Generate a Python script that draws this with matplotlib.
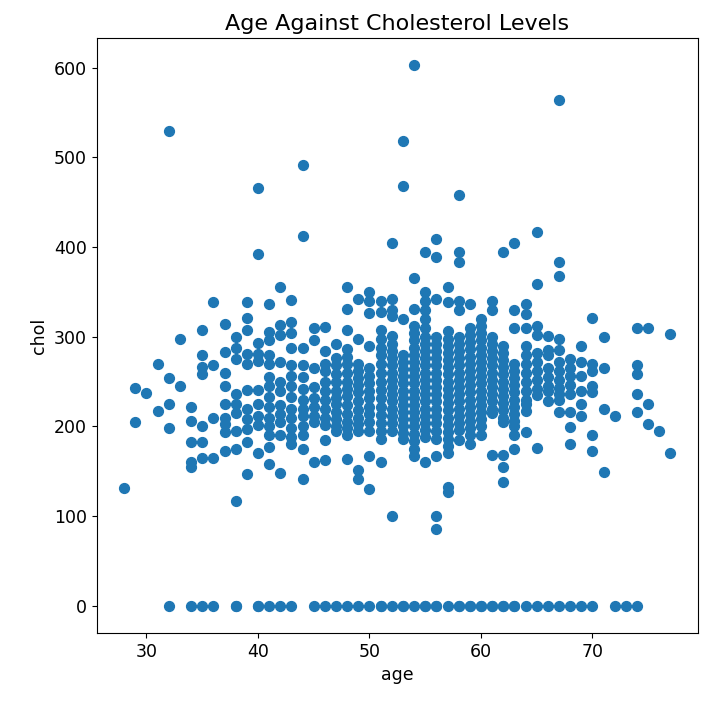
import numpy as np
import matplotlib
matplotlib.use("Agg")
import matplotlib.pyplot as plt

# cholesterol readings grouped by patient age
age_groups = [28, 29, 30, 31, 32, 33, 34, 35, 36, 37, 38, 39, 40, 41, 42, 43, 44,
              45, 46, 47, 48, 49, 50, 51, 52, 53, 54, 55, 56, 57, 58, 59, 60, 61,
              62, 63, 64, 65, 66, 67, 68, 69, 70, 71, 72, 74, 75, 76, 77]
chol_groups = [
    [132],
    [243, 205],
    [237],
    [270, 217],
    [529, 254, 225, 198],
    [298, 245],
    [222, 206, 183, 160, 155],
    [307, 280, 266, 258, 200, 183, 165],
    [339, 268, 209, 165],
    [314, 283, 260, 245, 225, 210, 203, 194, 173],
    [300, 287, 275, 236, 225, 215, 195, 175, 117],
    [339, 321, 307, 281, 270, 241, 219, 208, 197, 183, 147],
    [466, 392, 293, 281, 273, 241, 225, 212, 202, 171],
    [336, 305, 296, 280, 270, 255, 245, 233, 222, 210, 200, 190, 177, 158],
    [356, 313, 302, 272, 250, 240, 224, 214, 205, 190, 148],
    [341, 316, 304, 288, 269, 256, 245, 233, 220, 210, 198, 188, 180],
    [491, 412, 288, 268, 255, 242, 230, 220, 212, 200, 190, 175, 141],
    [310, 296, 265, 244, 232, 222, 212, 205, 160],
    [311, 284, 270, 262, 250, 240, 230, 220, 210, 202, 185, 163],
    [292, 276, 268, 258, 250, 240, 232, 225, 216, 208, 200, 195],
    [355, 331, 308, 286, 278, 270, 260, 250, 242, 234, 224, 214, 205, 198, 190, 164],
    [342, 297, 270, 262, 254, 246, 238, 228, 218, 210, 203, 195, 152, 141],
    [350, 340, 327, 290, 265, 256, 248, 240, 232, 222, 214, 205, 195, 167, 130],
    [340, 328, 308, 298, 288, 280, 270, 260, 250, 241, 232, 222, 213, 204, 195, 186, 160],
    [404, 342, 330, 323, 301, 292, 284, 276, 268, 260, 252, 244, 236, 228, 220, 212,
     204, 195, 100],
    [518, 468, 320, 280, 272, 264, 256, 248, 240, 232, 224, 216, 208, 200, 193, 186],
    [603, 366, 331, 312, 304, 296, 288, 280, 272, 264, 256, 248, 240, 232, 224, 216,
     208, 200, 192, 184, 175, 167],
    [394, 350, 340, 330, 320, 310, 300, 292, 284, 276, 268, 260, 252, 244, 236, 228,
     220, 212, 204, 196, 188, 160],
    [409, 389, 342, 300, 292, 284, 276, 268, 260, 252, 244, 236, 228, 220, 212, 204,
     195, 186, 167, 100, 86],
    [355, 339, 306, 298, 290, 282, 274, 266, 258, 250, 242, 234, 226, 218, 210, 202,
     194, 186, 178, 170, 133, 127],
    [458, 394, 383, 340, 330, 300, 292, 284, 276, 268, 260, 252, 244, 236, 228, 220,
     212, 204, 196, 185],
    [337, 310, 302, 294, 286, 278, 270, 262, 254, 246, 238, 230, 222, 214, 206, 198,
     190, 180],
    [320, 312, 304, 296, 288, 280, 272, 264, 256, 248, 240, 232, 224, 216, 208, 200, 190],
    [340, 330, 300, 292, 284, 276, 268, 260, 252, 244, 236, 228, 220, 215, 168],
    [394, 290, 282, 274, 266, 258, 250, 242, 234, 226, 218, 210, 205, 168, 155, 138],
    [405, 330, 310, 270, 262, 254, 246, 238, 230, 222, 214, 206, 200, 190, 175],
    [336, 325, 310, 290, 280, 270, 260, 250, 240, 230, 225, 217, 194],
    [417, 359, 312, 302, 282, 272, 262, 252, 242, 235, 176],
    [301, 285, 280, 265, 255, 245, 240, 228],
    [564, 383, 368, 298, 285, 272, 262, 252, 243, 236, 230, 216],
    [275, 265, 256, 246, 236, 216, 199, 181],
    [290, 272, 256, 240, 225, 212],
    [321, 270, 262, 245, 238, 191, 173],
    [300, 265, 219, 149],
    [212],
    [310, 269, 258, 236, 216],
    [310, 225, 203],
    [195],
    [303, 171],
]

# patients recorded with a cholesterol value of 0
zero_chol_ages = [32, 34, 35, 36, 38, 38, 40, 40, 41, 42, 43, 45, 46, 47, 48, 49,
                  50, 51, 51, 52, 53, 53, 54, 55, 55, 56, 56, 57, 58, 58, 59, 59,
                  60, 60, 61, 61, 62, 62, 63, 63, 64, 65, 66, 67, 68, 69, 70, 72,
                  73, 74]

age = np.repeat(age_groups, [len(c) for c in chol_groups])
chol = np.concatenate([np.array(c) for c in chol_groups])
age = np.concatenate([age, zero_chol_ages])
chol = np.concatenate([chol, np.zeros(len(zero_chol_ages))])

fig = plt.figure(figsize=(7.02, 7.01), dpi=100)
ax = fig.add_axes([0.138, 0.097, 0.856, 0.849])
ax.scatter(age, chol, s=50, color="#1f77b4")

ax.set_title("Age Against Cholesterol Levels", fontsize=16)
ax.set_xlabel("age", fontsize=12.5)
ax.set_ylabel("chol", fontsize=12.5)
ax.tick_params(labelsize=12.5)
ax.set_yticks([0, 100, 200, 300, 400, 500, 600])

fig.savefig("out.png", dpi=100)
